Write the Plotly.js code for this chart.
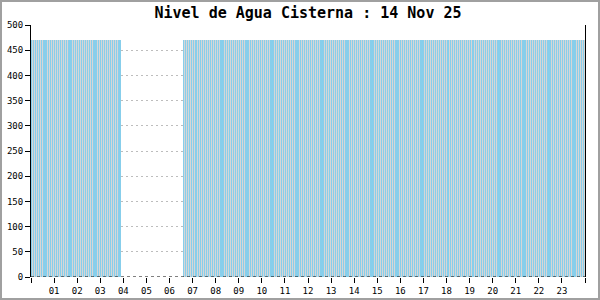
<!DOCTYPE html>
<html><head><meta charset="utf-8">
<script src="https://cdn.plot.ly/plotly-3.0.1.min.js"></script>
<style>
html,body{margin:0;padding:0;background:#fff}
#wrap{position:relative;width:600px;height:300px}
#chart{position:absolute;left:0;top:0;width:600px;height:300px}
#frame{position:absolute;left:0;top:0;width:600px;height:300px;box-sizing:border-box;border:2px solid #a0a0a0;pointer-events:none}
</style></head><body>
<div id="wrap"><div id="chart"></div><div id="frame"></div></div>
<script>
const day = '2025-11-14';
const nextDay = '2025-11-15';
const chartTitle = 'Nivel de Agua Cisterna : 14 Nov 25';

const times = [
 '00:00','00:05','00:10','00:15','00:20','00:25','00:30','00:35','00:40','00:45','00:50','00:55',
 '01:00','01:05','01:10','01:15','01:20','01:25','01:30','01:35','01:40','01:45','01:50','01:55',
 '02:00','02:05','02:10','02:15','02:20','02:25','02:30','02:35','02:40','02:45','02:50','02:55',
 '03:00','03:05','03:10','03:15','03:20','03:25','03:30','03:35','03:40','03:45','03:50',
 '06:35','06:40','06:45','06:50','06:55',
 '07:00','07:05','07:10','07:15','07:20','07:25','07:30','07:35','07:40','07:45','07:50','07:55',
 '08:00','08:05','08:10','08:15','08:20','08:25','08:30','08:35','08:40','08:45','08:50','08:55',
 '09:00','09:05','09:10','09:15','09:20','09:25','09:30','09:35','09:40','09:45','09:50','09:55',
 '10:00','10:05','10:10','10:15','10:20','10:25','10:30','10:35','10:40','10:45','10:50','10:55',
 '11:00','11:05','11:10','11:15','11:20','11:25','11:30','11:35','11:40','11:45','11:50','11:55',
 '12:00','12:05','12:10','12:15','12:20','12:25','12:30','12:35','12:40','12:45','12:50','12:55',
 '13:00','13:05','13:10','13:15','13:20','13:25','13:30','13:35','13:40','13:45','13:50','13:55',
 '14:00','14:05','14:10','14:15','14:20','14:25','14:30','14:35','14:40','14:45','14:50','14:55',
 '15:00','15:05','15:10','15:15','15:20','15:25','15:30','15:35','15:40','15:45','15:50','15:55',
 '16:00','16:05','16:10','16:15','16:20','16:25','16:30','16:35','16:40','16:45','16:50','16:55',
 '17:00','17:05','17:10','17:15','17:20','17:25','17:30','17:35','17:40','17:45','17:50','17:55',
 '18:00','18:05','18:10','18:15','18:20','18:25','18:30','18:35','18:40','18:45','18:50','18:55',
 '19:00','19:05','19:10','19:15','19:20','19:25','19:30','19:35','19:40','19:45','19:50','19:55',
 '20:00','20:05','20:10','20:15','20:20','20:25','20:30','20:35','20:40','20:45','20:50','20:55',
 '21:00','21:05','21:10','21:15','21:20','21:25','21:30','21:35','21:40','21:45','21:50','21:55',
 '22:00','22:05','22:10','22:15','22:20','22:25','22:30','22:35','22:40','22:45','22:50','22:55',
 '23:00','23:05','23:10','23:15','23:20','23:25','23:30','23:35','23:40','23:45','23:50','23:55'
];

const levels = [
 470,470,470,470,470,470,470,470,470,470,470,470,
 470,470,470,470,470,470,470,470,470,470,470,470,
 470,470,470,470,470,470,470,470,470,470,470,470,
 470,470,470,470,470,470,470,470,470,470,470,
 470,470,470,470,470,
 470,470,470,470,470,470,470,470,470,470,470,470,
 470,470,470,470,470,470,470,470,470,470,470,470,
 470,470,470,470,470,470,470,470,470,470,470,470,
 470,470,470,470,470,470,470,470,470,470,470,470,
 470,470,470,470,470,470,470,470,470,470,470,470,
 470,470,470,470,470,470,470,470,470,470,470,470,
 470,470,470,470,470,470,470,470,470,470,470,470,
 470,470,470,470,470,470,470,470,470,470,470,470,
 470,470,470,470,470,470,470,470,470,470,470,470,
 470,470,470,470,470,470,470,470,470,470,470,470,
 470,470,470,470,470,470,470,470,470,470,470,470,
 470,470,470,470,470,470,470,470,470,470,470,470,
 470,470,470,470,470,470,470,470,470,470,470,470,
 470,470,470,470,470,470,470,470,470,470,470,470,
 470,470,470,470,470,470,470,470,470,470,470,470,
 470,470,470,470,470,470,470,470,470,470,470,470,
 470,470,470,470,470,470,470,470,470,470,470,470
];

const tickHours = ['00:00','01:00','02:00','03:00','04:00','05:00','06:00','07:00','08:00','09:00','10:00','11:00',
 '12:00','13:00','14:00','15:00','16:00','17:00','18:00','19:00','20:00','21:00','22:00','23:00'];
const tickLabels = ['','01','02','03','04','05','06','07','08','09','10','11',
 '12','13','14','15','16','17','18','19','20','21','22','23',''];
const yTicks = [0,50,100,150,200,250,300,350,400,450,500];

const xs = times.map(t => day + ' ' + t);
const xTickVals = tickHours.map(h => day + ' ' + h).concat([nextDay + ' 00:00']);
const slotMs = 5 * 60 * 1000;

const monoFont = {family: 'DejaVu Sans Mono, monospace', size: 9, color: '#000'};

const backTrace = {
  type: 'bar', x: xs, y: levels,
  width: xs.map(() => slotMs), offset: 0,
  marker: {color: '#d6d6d6', line: {width: 0}},
  hoverinfo: 'skip'
};
const barTrace = {
  type: 'bar', x: xs, y: levels,
  width: xs.map(() => slotMs * 0.55), offset: 0,
  marker: {color: '#87CEEB', line: {width: 0}},
  hoverinfo: 'x+y'
};

const layout = {
  width: 600, height: 300,
  margin: {l: 31, r: 15, t: 25, b: 23, pad: 0},
  paper_bgcolor: '#fff', plot_bgcolor: '#fff',
  showlegend: false,
  barmode: 'overlay', bargap: 0, bargroupgap: 0,
  title: {
    text: chartTitle,
    font: {family: 'DejaVu Sans Mono, monospace', size: 15, color: '#000', weight: 'bold'},
    x: 0.5, xanchor: 'center', xref: 'paper',
    y: 0.957, yanchor: 'middle', yref: 'container'
  },
  xaxis: {
    type: 'date',
    range: [day + ' 00:00', nextDay + ' 00:00'],
    tickmode: 'array', tickvals: xTickVals, ticktext: tickLabels,
    ticks: 'outside', ticklen: 5, tickcolor: '#000', tickwidth: 1,
    showgrid: false, zeroline: false, showline: false,
    tickfont: monoFont, fixedrange: true
  },
  yaxis: {
    range: [0, 500],
    tickmode: 'array', tickvals: yTicks,
    ticks: 'outside', ticklen: 5, tickcolor: '#000', tickwidth: 1,
    showgrid: true, gridcolor: '#bdbdbd', griddash: '2px,3px', gridwidth: 1,
    showline: true, linecolor: '#000', linewidth: 1, mirror: true,
    zeroline: false, tickfont: monoFont, fixedrange: true
  },
  shapes: [{
    type: 'line', xref: 'paper', yref: 'y', x0: 0, x1: 1, y0: 0, y1: 0,
    line: {color: '#000', width: 1, dash: 'dot'}, layer: 'above'
  }]
};

Plotly.newPlot('chart', [backTrace, barTrace], layout, {staticPlot: true, displayModeBar: false});
</script>
</body></html>
